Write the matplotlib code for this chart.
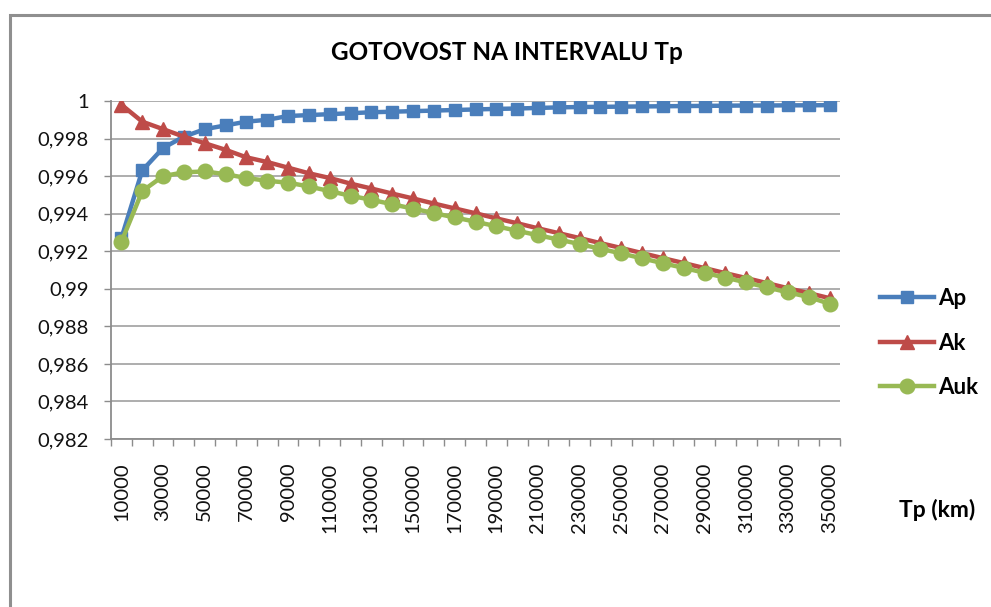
import matplotlib
matplotlib.use("Agg")
import matplotlib.pyplot as plt
from matplotlib.patches import Rectangle
from matplotlib.ticker import FixedLocator

# Data
tp = [10000 * (i + 1) for i in range(35)]
ap = [0.9927, 0.9963, 0.9975, 0.9981, 0.9985, 0.9987, 0.9989, 0.9990, 0.9992, 0.99925,
      0.9993, 0.99935, 0.9994, 0.99943, 0.99946, 0.99949, 0.99952, 0.99955, 0.99958, 0.9996,
      0.99963, 0.99966, 0.99968, 0.99969, 0.9997, 0.99971, 0.99972, 0.99973, 0.99974, 0.99975,
      0.99976, 0.99976, 0.99977, 0.99977, 0.99978]
ak = [0.9998, 0.9989, 0.9985, 0.9981, 0.99775, 0.9974, 0.9970, 0.99675, 0.99645, 0.99615,
      0.9959, 0.9956, 0.99534, 0.99507, 0.99481, 0.99454, 0.99428, 0.99402, 0.99375, 0.99349,
      0.99322, 0.99296, 0.9927, 0.99243, 0.99217, 0.9919, 0.99163, 0.99137, 0.9911, 0.99083,
      0.99057, 0.9903, 0.99003, 0.98977, 0.9895]
auk = [0.9925, 0.9952, 0.9960, 0.9962, 0.99625, 0.9961, 0.9959, 0.99575, 0.99565, 0.99545,
       0.9952, 0.99495, 0.99474, 0.9945, 0.99427, 0.99403, 0.9938, 0.99357, 0.99333, 0.99309,
       0.99285, 0.99262, 0.99238, 0.99213, 0.99188, 0.99162, 0.99136, 0.99111, 0.99085, 0.99059,
       0.99034, 0.99007, 0.98981, 0.98956, 0.9892]
y_ticks = [0.982, 0.984, 0.986, 0.988, 0.99, 0.992, 0.994, 0.996, 0.998, 1.0]
y_labels = ["0,982", "0,984", "0,986", "0,988", "0,99", "0,992", "0,994", "0,996", "0,998", "1"]

plt.rcParams["font.family"] = ["Lato", "DejaVu Sans"]

W, H = 991, 607
fig = plt.figure(figsize=(W / 100, H / 100), dpi=100)

# outer chart frame (cut off at right and bottom)
fig.patches.append(Rectangle((9.5 / W, -0.1), 1.2, 1 - 14.5 / H + 0.1,
                             transform=fig.transFigure, fill=False,
                             edgecolor="#8f8f8f", linewidth=2.2))

ax = fig.add_axes([111 / W, 1 - 439 / H, (840 - 111) / W, (439 - 101) / H])

x = list(range(len(tp)))
ax.plot(x, ap, color="#4a7ebb", lw=3.2, marker="s", ms=9, label="Ap")
ax.plot(x, ak, color="#be4b48", lw=3.2, marker="^", ms=10, label="Ak")
ax.plot(x, auk, color="#98b954", lw=3.2, marker="o", ms=10.5, label="Auk")

ax.set_xlim(-0.5, len(tp) - 0.5)
ax.set_ylim(0.982, 1.0)

ax.set_yticks(y_ticks)
ax.set_yticklabels(y_labels, fontsize=14.5, color="#111111")
ax.tick_params(axis="y", length=5, width=1, color="#8c8c8c", pad=11)

ax.set_xticks(x[::2])
ax.set_xticklabels([str(v) for v in tp[::2]], rotation=90, fontsize=14.5, color="#111111")
ax.xaxis.set_minor_locator(FixedLocator([i - 0.5 for i in range(len(tp) + 1)]))
ax.tick_params(axis="x", which="major", length=0, pad=17)
ax.tick_params(axis="x", which="minor", length=5, width=1, color="#8c8c8c")

ax.grid(axis="y", color="#a0a0a0", lw=1.2)
ax.set_axisbelow(True)
for s in ["top", "right"]:
    ax.spines[s].set_visible(False)
for s in ["left", "bottom"]:
    ax.spines[s].set_color("#8c8c8c")
    ax.spines[s].set_linewidth(1.3)

fig.text(507 / W, 1 - 52 / H, "GOTOVOST NA INTERVALU Tp", ha="center", va="center",
         fontsize=17.5, fontweight="bold")
fig.text(937 / W, 1 - 510 / H, "Tp (km)", ha="center", va="center",
         fontsize=16.5, fontweight="bold")

ax.legend(loc="center left", bbox_to_anchor=(880 / W, 1 - 343 / H),
          bbox_transform=fig.transFigure, frameon=False, handlelength=2.45,
          handletextpad=0.15, labelspacing=1.05, borderpad=0, borderaxespad=0,
          prop={"weight": "bold", "size": 16})

fig.savefig("out.png", dpi=100)
